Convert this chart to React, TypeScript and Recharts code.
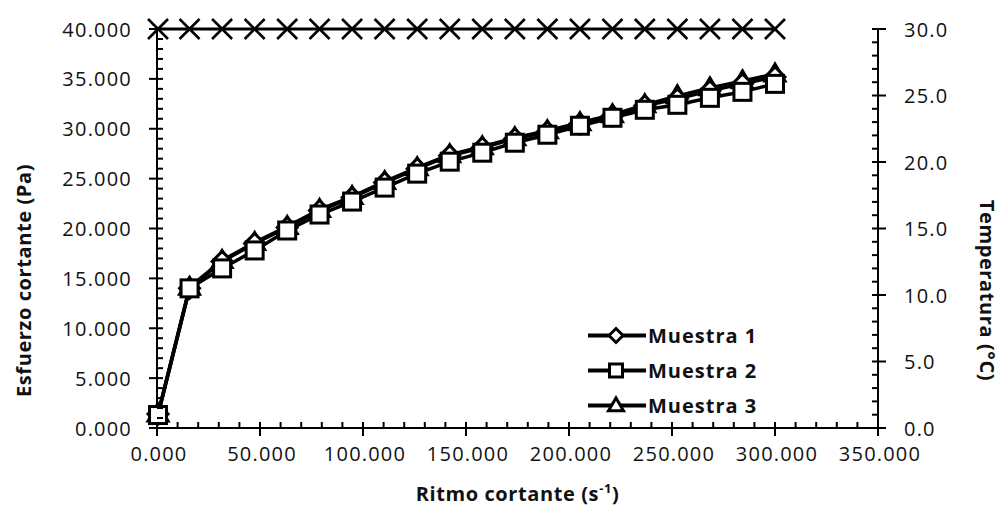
import { ComposedChart, Line, XAxis, YAxis, Legend, Label } from "recharts";

// shear rate (s-1) and stress (Pa)
const ritmo = [0.5, 15.8, 31.6, 47.4, 63.2, 78.9, 94.7, 110.5, 126.3, 142.1, 157.9, 173.7, 189.5, 205.3, 221.1, 236.8, 252.6, 268.4, 284.2, 300.0];
const muestra1 = [1.4, 14.0, 16.7, 18.5, 20.1, 21.8, 23.1, 24.6, 26.0, 27.3, 28.1, 29.0, 29.7, 30.5, 31.3, 32.3, 33.0, 33.8, 34.5, 35.2];
const muestra2 = [1.3, 14.0, 16.0, 17.8, 19.8, 21.4, 22.7, 24.1, 25.5, 26.7, 27.6, 28.6, 29.4, 30.3, 31.1, 31.9, 32.4, 33.1, 33.7, 34.5];
const muestra3 = [1.4, 14.1, 16.8, 18.6, 20.2, 21.9, 23.2, 24.7, 26.1, 27.4, 28.2, 29.1, 29.8, 30.6, 31.4, 32.4, 33.3, 34.1, 34.8, 35.5];
const temperatura = [30.0, 30.0, 30.0, 30.0, 30.0, 30.0, 30.0, 30.0, 30.0, 30.0, 30.0, 30.0, 30.0, 30.0, 30.0, 30.0, 30.0, 30.0, 30.0, 30.0];

const xMajor = [0, 50, 100, 150, 200, 250, 300, 350];
const yMajor = [0, 5, 10, 15, 20, 25, 30, 35, 40];
const tMajor = [0, 5, 10, 15, 20, 25, 30];

const data = ritmo.map((x, i) => ({
  x,
  m1: muestra1[i],
  m2: muestra2[i],
  m3: muestra3[i],
  t: temperatura[i],
}));

// major ticks plus the small ones in between
const withMinor = (major: number[], parts: number) => {
  const out: number[] = [];
  for (let i = 0; i < major.length - 1; i++) {
    const step = (major[i + 1] - major[i]) / parts;
    for (let k = 0; k < parts; k++) out.push(+(major[i] + k * step).toFixed(4));
  }
  out.push(major[major.length - 1]);
  return out;
};

const FONT = "'Open Sans', sans-serif";
const tickText = { fontFamily: FONT, fontSize: 20, fill: "#111", letterSpacing: 1.2 };
const titleText = { fontFamily: FONT, fontSize: 20, fontWeight: 700, fill: "#111", letterSpacing: 0.6 };
const TICK = "#000";

const isMajor = (v: number, list: number[]) => list.some((m) => Math.abs(m - v) < 1e-6);

const LeftTick = (props: any) => {
  const x = Number(props.x);
  const y = Number(props.y);
  const v = props.payload.value;
  const major = isMajor(v, yMajor);
  return (
    <g>
      <path d={`M${major ? x - 8 : x},${y}H${x + 6}`} stroke={TICK} strokeWidth={2} />
      {major && (
        <text x={x - 25} y={y} textAnchor="end" dominantBaseline="central" {...tickText}>
          {v.toFixed(3)}
        </text>
      )}
    </g>
  );
};

const RightTick = (props: any) => {
  const x = Number(props.x);
  const y = Number(props.y);
  const v = props.payload.value;
  const major = isMajor(v, tMajor);
  return (
    <g>
      <path d={`M${x - 6},${y}H${major ? x + 8 : x}`} stroke={TICK} strokeWidth={2} />
      {major && (
        <text x={x + 26} y={y} textAnchor="start" dominantBaseline="central" {...tickText}>
          {v.toFixed(1)}
        </text>
      )}
    </g>
  );
};

const BottomTick = (props: any) => {
  const x = Number(props.x);
  const y = Number(props.y);
  const v = props.payload.value;
  const major = isMajor(v, xMajor);
  return (
    <g>
      <path d={`M${x},${y - 6}V${major ? y + 8 : y}`} stroke={TICK} strokeWidth={2} />
      {major && (
        <text x={x + 2} y={y + 25} textAnchor="middle" dominantBaseline="central" {...tickText}>
          {v.toFixed(3)}
        </text>
      )}
    </g>
  );
};

const Diamond = ({ cx, cy, s = 10 }: any) => (
  <polygon points={`${cx},${cy - s} ${cx + s},${cy} ${cx},${cy + s} ${cx - s},${cy}`} fill="#fff" stroke="#000" strokeWidth={3} />
);
const Square = ({ cx, cy, s = 8.5 }: any) => (
  <rect x={cx - s} y={cy - s} width={2 * s} height={2 * s} fill="#fff" stroke="#000" strokeWidth={3} />
);
const Triangle = ({ cx, cy, s = 10 }: any) => (
  <polygon points={`${cx},${cy - s} ${cx + s},${cy + s * 0.7} ${cx - s},${cy + s * 0.7}`} fill="#fff" stroke="#000" strokeWidth={3} />
);
const Cross = ({ cx, cy, s = 10 }: any) => (
  <g stroke="#000" strokeWidth={2.6}>
    <line x1={cx - s} y1={cy - s} x2={cx + s} y2={cy + s} />
    <line x1={cx - s} y1={cy + s} x2={cx + s} y2={cy - s} />
  </g>
);

const legendItems = [
  { name: "Muestra 1", Marker: Diamond, s: 7 },
  { name: "Muestra 2", Marker: Square, s: 6.5 },
  { name: "Muestra 3", Marker: Triangle, s: 7.5 },
];

const renderLegend = () => (
  <div>
    {legendItems.map(({ name, Marker, s }) => (
      <div key={name} style={{ display: "flex", alignItems: "center", height: 35 }}>
        <svg width={60} height={35}>
          <line x1={1} x2={59} y1={17.5} y2={17.5} stroke="#000" strokeWidth={4} />
          <Marker cx={29} cy={17.5} s={s} />
        </svg>
        <span style={{ fontFamily: FONT, fontSize: 20, fontWeight: 700, color: "#111", letterSpacing: 1, marginLeft: 1 }}>
          {name}
        </span>
      </div>
    ))}
  </div>
);

export default function App() {
  return (
    <div style={{ position: "absolute", left: 0, top: 0, background: "#fff" }}>
      <ComposedChart width={1001} height={508} data={data} margin={{ top: 29, right: 0, bottom: 0, left: 0 }}>
        <XAxis
          dataKey="x"
          type="number"
          domain={[0, 350]}
          ticks={withMinor(xMajor, 5)}
          interval={0}
          height={80}
          tickSize={0}
          tickMargin={0}
          tick={BottomTick}
          axisLine={{ stroke: "#000", strokeWidth: 2 }}
        >
          <Label
            content={({ viewBox }: any) => (
              <text x={viewBox.x + viewBox.width / 2} y={viewBox.y + 73} textAnchor="middle" {...titleText}>
                Ritmo cortante (s
                <tspan dy={-8} fontSize={13}>-1</tspan>
                <tspan dy={8}>)</tspan>
              </text>
            )}
          />
        </XAxis>
        <YAxis
          yAxisId="left"
          orientation="left"
          type="number"
          domain={[0, 40]}
          ticks={withMinor(yMajor, 5)}
          interval={0}
          width={157}
          tickSize={0}
          tickMargin={0}
          tick={LeftTick}
          axisLine={{ stroke: "#000", strokeWidth: 2 }}
        >
          <Label
            content={({ viewBox }: any) => {
              const cx = viewBox.x + 23;
              const cy = viewBox.y + viewBox.height / 2 + 52;
              return (
                <text x={cx} y={cy} transform={`rotate(-90, ${cx}, ${cy})`} textAnchor="middle" dominantBaseline="central" {...titleText}>
                  Esfuerzo cortante (Pa)
                </text>
              );
            }}
          />
        </YAxis>
        <YAxis
          yAxisId="right"
          orientation="right"
          type="number"
          domain={[0, 30]}
          ticks={withMinor(tMajor, 5)}
          interval={0}
          width={123}
          tickSize={0}
          tickMargin={0}
          tick={RightTick}
          axisLine={{ stroke: "#000", strokeWidth: 2 }}
        >
          <Label
            content={({ viewBox }: any) => {
              const cx = viewBox.x + viewBox.width - 14;
              const cy = viewBox.y + viewBox.height / 2 + 62;
              return (
                <text x={cx} y={cy} transform={`rotate(90, ${cx}, ${cy})`} textAnchor="middle" dominantBaseline="central" {...titleText}>
                  Temperatura (°C)
                </text>
              );
            }}
          />
        </YAxis>

        <Line
          yAxisId="right"
          dataKey="t"
          name="Temperatura"
          stroke="#000"
          strokeWidth={3}
          legendType="none"
          isAnimationActive={false}
          dot={(p: any) => <Cross key={`t-${p.index}`} cx={p.cx} cy={p.cy} />}
        />
        <Line
          yAxisId="left"
          dataKey="m3"
          name="Muestra 3"
          stroke="#000"
          strokeWidth={3.5}
          isAnimationActive={false}
          dot={(p: any) => <Triangle key={`m3-${p.index}`} cx={p.cx} cy={p.cy} />}
        />
        <Line
          yAxisId="left"
          dataKey="m1"
          name="Muestra 1"
          stroke="#000"
          strokeWidth={3.5}
          isAnimationActive={false}
          dot={(p: any) => <Diamond key={`m1-${p.index}`} cx={p.cx} cy={p.cy} />}
        />
        <Line
          yAxisId="left"
          dataKey="m2"
          name="Muestra 2"
          stroke="#000"
          strokeWidth={3.5}
          isAnimationActive={false}
          dot={(p: any) => <Square key={`m2-${p.index}`} cx={p.cx} cy={p.cy} />}
        />

        <Legend
          layout="vertical"
          align="center"
          verticalAlign="middle"
          content={renderLegend}
          wrapperStyle={{ left: 587, top: 318, width: 220, height: 110 }}
        />
      </ComposedChart>
    </div>
  );
}
